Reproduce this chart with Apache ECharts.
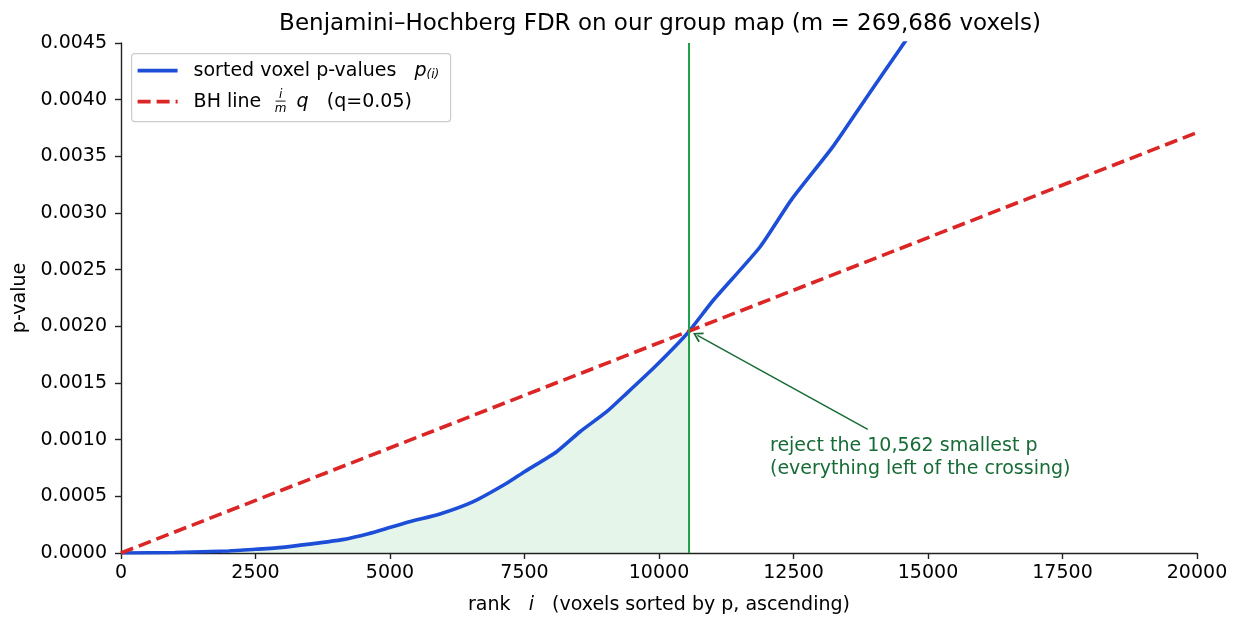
<!DOCTYPE html>
<html>
<head>
    <meta charset="utf-8">
    <title>BH FDR</title>
    <script src="https://cdn.jsdelivr.net/npm/echarts@6/dist/echarts.min.js"></script>
    <style type="text/css">
    html, body { margin: 0; padding: 0; background: #fff; }
    </style>
</head>
<body>
    <div id="main" style="width: 1241px;height:629px;"></div>
    <script type="text/javascript">
        // 排序后的体素 p 值
        var rankI = [0, 1000, 2000, 2500, 3000, 3500, 4118, 4600, 5013, 5400, 5929, 6548, 7169, 7500,
                     8098, 8532, 9028, 9399, 9895, 10266, 10562, 11009, 11877, 12466, 13240, 13829, 14511, 15000];
        var pSorted = [0, 0.000005, 0.000018, 0.000033, 0.00005, 0.000078, 0.000118, 0.00017, 0.000227, 0.00028,
                       0.000344, 0.000453, 0.000615, 0.000717, 0.000894, 0.00107, 0.001247, 0.001409, 0.00163,
                       0.001806, 0.001958, 0.00223, 0.0027, 0.00312, 0.00359, 0.004, 0.00447, 0.0048];
        // BH 线端点 (i/m)*q
        var bhX = [0, 20000];
        var bhY = [0, 0.00371];
        // 拒绝数 / 交点
        var kReject = 10562;
        var arrowFrom = [13880, 0.00109];
        var arrowTo = [10714, 0.00192];
        var xTicks = { min: 0, max: 20000, interval: 2500 };
        var yTicks = { min: 0, max: 0.0045, interval: 0.0005 };

        var FONT = 'DejaVu Sans';
        var FS = 19;
        var BLUE = '#1d4ed8', RED = '#dc2626', GREEN = '#1fa34a', DKGREEN = '#176b36';

        var blueData = rankI.map(function (x, i) { return [x, pSorted[i]]; });
        var shadeData = blueData.filter(function (d) { return d[0] <= kReject; });
        var bhData = bhX.map(function (x, i) { return [x, bhY[i]]; });

        var myChart = echarts.init(document.getElementById('main'));
        var option = {
            animation: false,
            title: {
                text: 'Benjamini\u2013Hochberg FDR on our group map (m = 269,686 voxels)',
                left: 655, top: 8, textAlign: 'center',
                textStyle: { fontFamily: FONT, fontSize: 23, fontWeight: 'normal', color: '#000' }
            },
            grid: { left: 121, right: 44, top: 43, bottom: 76 },
            xAxis: {
                type: 'value', min: xTicks.min, max: xTicks.max, interval: xTicks.interval,
                name: 'rank   {it|i}   (voxels sorted by p, ascending)',
                nameLocation: 'middle', nameGap: 43,
                nameTextStyle: { fontFamily: FONT, fontSize: FS, color: '#000',
                    rich: { it: { fontFamily: FONT, fontSize: FS, fontStyle: 'italic', color: '#000' } } },
                splitLine: { show: false },
                axisLine: { onZero: false, lineStyle: { color: '#222', width: 1.4 } },
                axisTick: { length: 6, lineStyle: { color: '#222', width: 1.4 } },
                axisLabel: { fontFamily: FONT, fontSize: FS, color: '#000', margin: 11,
                    formatter: function (v) { return String(v); } }
            },
            yAxis: {
                type: 'value', min: yTicks.min, max: yTicks.max, interval: yTicks.interval,
                name: 'p-value', nameLocation: 'middle', nameGap: 79, nameRotate: 90,
                nameTextStyle: { fontFamily: FONT, fontSize: FS, color: '#000' },
                splitLine: { show: false },
                axisLine: { show: true, onZero: false, lineStyle: { color: '#222', width: 1.4 } },
                axisTick: { show: true, length: 6, lineStyle: { color: '#222', width: 1.4 } },
                axisLabel: { fontFamily: FONT, fontSize: FS, color: '#000', margin: 14,
                    formatter: function (v) { return v.toFixed(4); } }
            },
            series: [{
                name: 'shade', type: 'line', data: shadeData, smooth: 0.2,
                showSymbol: false, silent: true, z: 1,
                lineStyle: { width: 0 },
                areaStyle: { color: 'rgba(31,163,74,0.16)', origin: 'start' },
                markLine: {
                    silent: true, symbol: ['none', 'none'],
                    label: { show: false },
                    lineStyle: { color: GREEN, width: 2, type: 'solid' },
                    data: [{ xAxis: kReject }]
                }
            }, {
                name: 'sorted voxel p-values', type: 'line', data: blueData, smooth: 0.2,
                showSymbol: false, z: 3,
                lineStyle: { color: BLUE, width: 3.6 }
            }, {
                name: 'BH line', type: 'line', data: bhData, showSymbol: false, z: 4,
                lineStyle: { color: RED, width: 3.6, type: [13, 6] },
                markLine: {
                    silent: true,
                    symbol: ['none', 'path://M5,0 L10,9 L8.6,10 L5,3.2 L1.4,10 L0,9 Z'],
                    symbolSize: [11, 10],
                    label: { show: false },
                    lineStyle: { color: DKGREEN, width: 1.5, type: 'solid' },
                    data: [[{ coord: arrowFrom }, { coord: arrowTo }]]
                }
            }],
            graphic: [{
                type: 'text', left: 770, top: 435, z: 10,
                style: { text: 'reject the 10,562 smallest p\n(everything left of the crossing)',
                    font: FS + 'px "DejaVu Sans"', fill: DKGREEN, lineHeight: 23 }
            }, {
                type: 'group', left: 131, top: 53, z: 20,
                children: [{
                    type: 'rect', shape: { x: 0, y: 0, width: 319, height: 68, r: 3 },
                    style: { fill: 'rgba(255,255,255,0.85)', stroke: '#cccccc', lineWidth: 1.2 }
                }, {
                    type: 'line', shape: { x1: 6, y1: 17, x2: 46, y2: 17 },
                    style: { stroke: BLUE, lineWidth: 3.6 }
                }, {
                    type: 'text', x: 62, y: 17,
                    style: { text: 'sorted voxel p-values   {it|p}{sub|(i)}', font: FS + 'px "DejaVu Sans"',
                        fill: '#000', verticalAlign: 'middle',
                        rich: { it: { fontFamily: FONT, fontSize: FS, fontStyle: 'italic' },
                                sub: { fontFamily: FONT, fontSize: 12, fontStyle: 'italic', padding: [8, 0, 0, 0] } } }
                }, {
                    type: 'line', shape: { x1: 6, y1: 48, x2: 46, y2: 48 },
                    style: { stroke: RED, lineWidth: 3.6, lineDash: [13, 6] }
                }, {
                    type: 'text', x: 62, y: 48,
                    style: { text: 'BH line', font: FS + 'px "DejaVu Sans"', fill: '#000', verticalAlign: 'middle' }
                }, {
                    type: 'text', x: 149, y: 41,
                    style: { text: 'i', font: 'italic 12px "DejaVu Sans"', fill: '#000', align: 'center', verticalAlign: 'middle' }
                }, {
                    type: 'line', shape: { x1: 144, y1: 47.5, x2: 154, y2: 47.5 },
                    style: { stroke: '#000', lineWidth: 0.9 }
                }, {
                    type: 'text', x: 149, y: 55,
                    style: { text: 'm', font: 'italic 12px "DejaVu Sans"', fill: '#000', align: 'center', verticalAlign: 'middle' }
                }, {
                    type: 'text', x: 165, y: 48,
                    style: { text: '{it|q}   (q=0.05)', font: FS + 'px "DejaVu Sans"', fill: '#000', verticalAlign: 'middle',
                        rich: { it: { fontFamily: FONT, fontSize: FS, fontStyle: 'italic' } } }
                }]
            }]
        };
        myChart.setOption(option);
    </script>
</body>
</html>
